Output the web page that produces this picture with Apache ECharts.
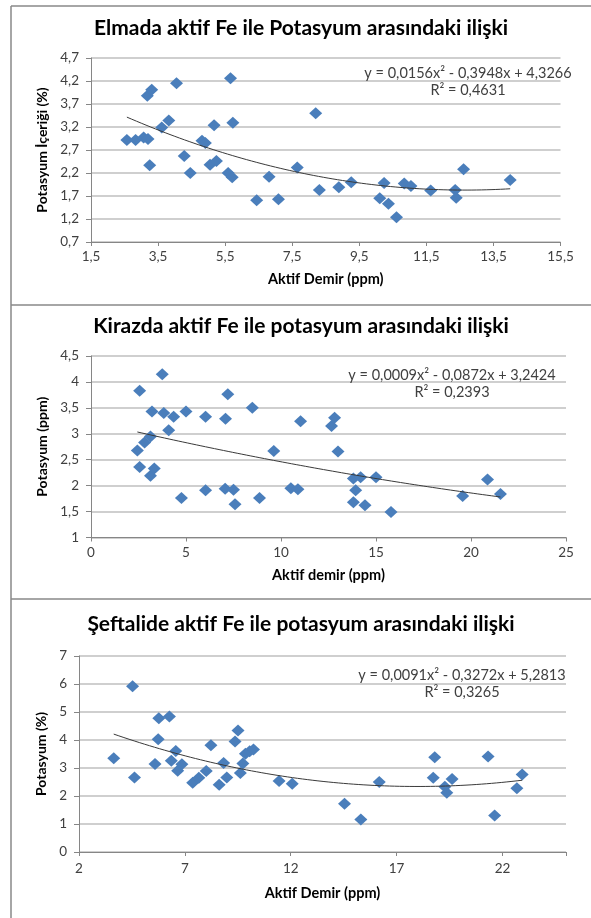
<!DOCTYPE html>
<html>
<head>
<meta charset="utf-8">
<script src="https://cdn.jsdelivr.net/npm/echarts@6/dist/echarts.min.js"></script>
<style>html,body{margin:0;padding:0;background:#fff}#c{width:591px;height:918px}</style>
</head>
<body>
<div id="c"></div>
<script>
// ---------- Panel 1: Elma ----------
const elmaFe = [2.57,2.83,3.07,3.20,3.18,3.31,3.25,3.61,3.82,4.05,4.28,4.46,4.81,4.91,5.05,5.24,5.17,5.66,5.73,5.59,5.71,6.44,6.81,7.09,7.65,8.20,8.31,8.89,9.26,10.11,10.24,10.37,10.61,10.84,11.04,11.63,12.36,12.39,12.61,14.00];
const elmaK  = [2.92,2.92,2.97,2.94,3.88,4.01,2.37,3.19,3.34,4.15,2.57,2.20,2.90,2.85,2.38,2.46,3.24,4.26,3.29,2.20,2.11,1.61,2.12,1.63,2.32,3.50,1.83,1.89,2.00,1.65,1.98,1.53,1.24,1.97,1.92,1.82,1.83,1.66,2.28,2.05];
const elmaCoef = [0.0156, -0.3948, 4.3266];
const elmaEq = ['y = 0,0156x² - 0,3948x + 4,3266', 'R² = 0,4631'];
const elmaXTicks = [1.5, 15.5, 2];
const elmaYTicks = [0.7, 4.7, 0.5];

// ---------- Panel 2: Kiraz ----------
const kirazFe = [2.44,2.56,2.56,2.82,3.13,3.21,3.13,3.33,3.75,3.83,4.09,4.35,4.76,5.00,6.03,6.03,7.08,7.20,7.06,7.50,7.58,8.49,8.87,9.62,10.52,10.89,11.03,12.66,12.82,13.00,13.81,14.19,13.93,13.81,14.42,15.00,15.79,19.56,20.87,21.55];
const kirazK  = [2.68,3.83,2.36,2.83,2.95,3.43,2.19,2.33,4.15,3.40,3.07,3.33,1.76,3.43,3.33,1.91,3.29,3.76,1.94,1.92,1.64,3.50,1.76,2.67,1.95,1.93,3.24,3.15,3.31,2.66,2.14,2.16,1.91,1.68,1.62,2.16,1.49,1.80,2.12,1.84];
const kirazCoef = [0.0009, -0.0872, 3.2424];
const kirazEq = ['y = 0,0009x² - 0,0872x + 3,2424', 'R² = 0,2393'];
const kirazXTicks = [0, 25, 5];
const kirazYTicks = [1, 4.5, 0.5];

// ---------- Panel 3: Şeftali ----------
const seftaliFe = [3.64,4.53,4.62,5.59,5.74,5.77,6.27,6.36,6.57,6.66,6.86,7.37,7.66,8.01,8.23,8.62,8.83,8.98,9.37,9.51,9.62,9.74,9.86,10.06,10.24,11.45,12.07,14.54,15.31,16.18,18.73,18.80,19.28,19.37,19.62,21.32,21.63,22.68,22.93];
const seftaliK  = [3.35,5.92,2.66,3.14,4.03,4.78,4.84,3.26,3.61,2.90,3.13,2.47,2.65,2.89,3.81,2.40,3.18,2.66,3.95,4.34,2.82,3.16,3.51,3.60,3.66,2.54,2.44,1.72,1.16,2.50,2.65,3.38,2.33,2.12,2.61,3.41,1.30,2.28,2.77];
const seftaliCoef = [0.0091, -0.3272, 5.2813];
const seftaliEq = ['y = 0,0091x² - 0,3272x + 5,2813', 'R² = 0,3265'];
const seftaliXTicks = [2, 25, 5];
const seftaliYTicks = [0, 7, 1];

const titles = [
  'Elmada aktif Fe ile Potasyum arasındaki ilişki',
  'Kirazda aktif Fe ile potasyum arasındaki ilişki',
  'Şeftalide aktif Fe ile potasyum arasındaki ilişki'
];
const xNames = ['Aktif Demir (ppm)', 'Aktif demir (ppm)', 'Aktif Demir (ppm)'];
const yNames = ['Potasyum İçeriği (%)', 'Potasyum (ppm)', 'Potasyum (%)'];

// ---------- build ----------
const FONT = 'Lato';
const panels = [
  {fe: elmaFe, k: elmaK, coef: elmaCoef, eq: elmaEq, xt: elmaXTicks, yt: elmaYTicks,
   grid: {left: 91, top: 58, width: 469.5, height: 184}, titleY: 18, eqX: 468, eqY: 73, yGap: 40, xGap: 30, xMargin: 8, xMaxLabel: true},
  {fe: kirazFe, k: kirazK, coef: kirazCoef, eq: kirazEq, xt: kirazXTicks, yt: kirazYTicks,
   grid: {left: 91, top: 356, width: 475, height: 181.5}, titleY: 316, eqX: 452, eqY: 375, yGap: 40, xGap: 30, xMargin: 8, xMaxLabel: true},
  {fe: seftaliFe, k: seftaliK, coef: seftaliCoef, eq: seftaliEq, xt: seftaliXTicks, yt: seftaliYTicks,
   grid: {left: 79, top: 656, width: 487, height: 196}, titleY: 614, eqX: 462, eqY: 675, yGap: 29, xGap: 34, xMargin: 10, xMaxLabel: false}
];

function fmt(v) { return String(Math.round(v * 1000) / 1000).replace('.', ','); }

function trend(fe, coef) {
  const lo = Math.min.apply(null, fe), hi = Math.max.apply(null, fe);
  const pts = [];
  const n = 80;
  for (let i = 0; i <= n; i++) {
    const x = lo + (hi - lo) * i / n;
    pts.push([x, coef[0] * x * x + coef[1] * x + coef[2]]);
  }
  return pts;
}

const option = {
  animation: false,
  backgroundColor: '#fff',
  title: [], grid: [], xAxis: [], yAxis: [], series: [], graphic: []
};

const axisColor = '#868686';
const labelColor = '#404040';

panels.forEach((p, i) => {
  option.title.push({
    text: titles[i], left: 301, top: p.titleY, textAlign: 'center', padding: 0,
    textStyle: {fontFamily: FONT, fontWeight: 'bold', fontSize: 21, color: '#000'}
  });
  option.grid.push(Object.assign({containLabel: false, outerBoundsMode: 'none'}, p.grid));
  const xMax = p.xt[1];
  option.xAxis.push({
    type: 'value', gridIndex: i, min: p.xt[0], max: p.xt[1], interval: p.xt[2],
    name: xNames[i], nameLocation: 'middle', nameGap: p.xGap,
    nameTextStyle: {fontFamily: FONT, fontWeight: 'bold', fontSize: 14.5, color: '#000'},
    axisLine: {show: true, lineStyle: {color: axisColor, width: 1}},
    axisTick: {show: true, length: 4, inside: false, lineStyle: {color: axisColor}},
    splitLine: {show: false},
    axisLabel: {fontFamily: FONT, fontSize: 13.5, color: labelColor, margin: p.xMargin,
      formatter: v => (!p.xMaxLabel && v === xMax) ? '' : fmt(v)}
  });
  option.yAxis.push({
    type: 'value', gridIndex: i, min: p.yt[0], max: p.yt[1], interval: p.yt[2],
    name: yNames[i], nameLocation: 'middle', nameGap: p.yGap, nameRotate: 90,
    nameTextStyle: {fontFamily: FONT, fontWeight: 'bold', fontSize: 14, color: '#000'},
    axisLine: {show: true, lineStyle: {color: axisColor, width: 1}},
    axisTick: {show: true, length: 5, lineStyle: {color: axisColor}},
    splitLine: {show: true, lineStyle: {color: '#bfbfbf', width: 1.5}},
    axisLabel: {fontFamily: FONT, fontSize: 13.5, color: labelColor, margin: 12, formatter: fmt}
  });
  option.series.push({
    type: 'line', xAxisIndex: i, yAxisIndex: i, data: trend(p.fe, p.coef),
    showSymbol: false, symbol: 'none', smooth: false, z: 3,
    lineStyle: {color: '#3a3a3a', width: 1}
  });
  option.series.push({
    type: 'scatter', xAxisIndex: i, yAxisIndex: i,
    data: p.fe.map((x, j) => [x, p.k[j]]),
    symbol: 'diamond', symbolSize: [13, 12], z: 2,
    itemStyle: {color: '#4a7ebb', opacity: 1}
  });
  p.eq.forEach((t, j) => {
    option.graphic.push({
      type: 'text', x: p.eqX, y: p.eqY + j * 17, z: 10,
      style: {text: t, fontFamily: FONT, fontSize: 14.5, fill: labelColor, align: 'center', verticalAlign: 'middle'}
    });
  });
});

// panel borders
const border = {stroke: '#898989', lineWidth: 1.5};
option.graphic.push({type: 'line', shape: {x1: 11, y1: 6, x2: 11, y2: 918}, style: border, z: 1});
[6, 305, 599].forEach(y => {
  option.graphic.push({type: 'line', shape: {x1: 11, y1: y, x2: 591, y2: y}, style: border, z: 1});
});

const chart = echarts.init(document.getElementById('c'), null, {renderer: 'canvas'});
chart.setOption(option);
</script>
</body>
</html>
